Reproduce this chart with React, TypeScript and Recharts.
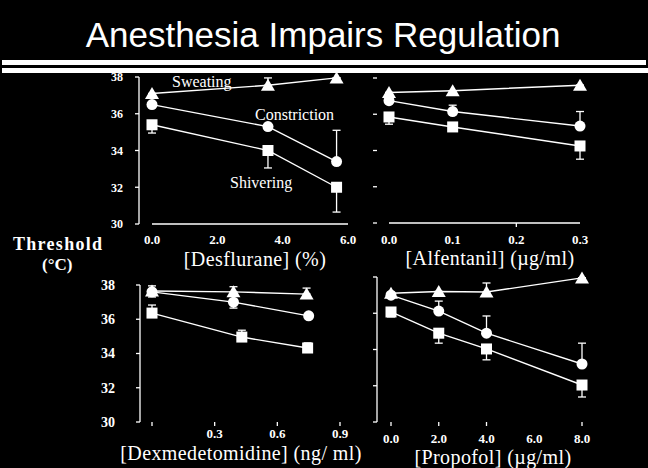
import React from 'react';
import { LineChart, Line, XAxis, YAxis, ErrorBar, ReferenceLine } from 'recharts';

// ---------- Data ----------
const yTicks = [30, 32, 34, 36, 38];

// Desflurane (%)
const desX = [0, 3.55, 5.65];
const desTicks = [0, 2, 4, 6];
const desTickLabels = ['0.0', '2.0', '4.0', '6.0'];
const desSweating = [37.1, 37.55, 37.95];
const desSweatingErr = [[0, 0], [0, 0.4], [0, 0]];
const desConstriction = [36.5, 35.3, 33.4];
const desConstrictionErr = [[0, 0], [0, 0], [0, 1.7]];
const desShivering = [35.4, 34.0, 32.0];
const desShiveringErr = [[0.45, 0], [0.95, 0], [1.35, 0]];

// Alfentanil (ug/ml)
const alfX = [0, 0.1, 0.3];
const alfTicks = [0, 0.1, 0.2, 0.3];
const alfTickLabels = ['0.0', '0.1', '0.2', '0.3'];
const alfSweating = [37.2, 37.3, 37.6];
const alfSweatingErr = [[0, 0], [0, 0], [0, 0]];
const alfConstriction = [36.75, 36.15, 35.35];
const alfConstrictionErr = [[0, 0], [0, 0.35], [0, 0.8]];
const alfShivering = [35.85, 35.3, 34.25];
const alfShiveringErr = [[0.4, 0], [0, 0], [0.73, 0]];

// Dexmedetomidine (ng/ml)
const dexSweatingX = [0, 0.39, 0.74];
const dexConstrictionX = [0, 0.39, 0.75];
const dexShiveringX = [0, 0.43, 0.745];
const dexTicks = [0, 0.3, 0.6, 0.9];
const dexTickLabels = ['', '0.3', '0.6', '0.9'];
const dexSweating = [37.65, 37.6, 37.47];
const dexSweatingErr = [[0, 0], [0, 0.3], [0, 0.35]];
const dexConstriction = [37.6, 37.0, 36.2];
const dexConstrictionErr = [[0.3, 0.35], [0.35, 0], [0, 0]];
const dexShivering = [36.36, 34.96, 34.32];
const dexShiveringErr = [[0, 0.47], [0, 0.4], [0, 0.3]];

// Propofol (ug/ml)
const proX = [0, 2, 4, 8];
const proTicks = [0, 2, 4, 6, 8];
const proTickLabels = ['0.0', '2.0', '4.0', '6.0', '8.0'];
const proSweating = [37.1, 37.2, 37.17, 37.95];
const proSweatingErr = [[0, 0], [0, 0], [0, 0.5], [0, 0]];
const proConstriction = [37.0, 36.12, 34.9, 33.2];
const proConstrictionErr = [[0, 0], [0, 0.55], [0, 0.95], [0, 1.15]];
const proShivering = [36.07, 34.9, 34.03, 32.04];
const proShiveringErr = [[0.27, 0], [0.55, 0], [0.6, 0], [0.66, 0]];

// ---------- helpers ----------
const rows = (xs: number[], ys: number[], errs: number[][]) =>
  xs.map((x, i) => ({ x, y: ys[i], err: errs[i] }));

const SERIF = "'Liberation Serif', 'Times New Roman', serif";
const SANS = "'Liberation Sans', Arial, sans-serif";

const Tri = (p: any) => {
  const { cx, cy } = p;
  if (cx == null || cy == null) return <g />;
  return <path d={`M${cx},${cy - 6.5}L${cx + 7},${cy + 5.5}L${cx - 7},${cy + 5.5}Z`} fill="#fff" />;
};
const Circ = (p: any) => {
  const { cx, cy } = p;
  if (cx == null || cy == null) return <g />;
  return <circle cx={cx} cy={cy} r={5.5} fill="#fff" />;
};
const Sq = (p: any) => {
  const { cx, cy } = p;
  if (cx == null || cy == null) return <g />;
  return <rect x={cx - 5.5} y={cy - 5.5} width={11} height={11} fill="#fff" />;
};

type Series = { name: string; data: any[]; shape: (p: any) => any };

type PanelProps = {
  left: number; right: number; top: number; bottom: number;
  padLeft: number;
  xDomain: [number, number];
  ticks: number[];
  tickLabels: string[];
  tickMarks: boolean[];
  tickDy: number;
  tickFont: number;
  yLabels: boolean;
  yAxisLine: boolean;
  yTickMargin: number;
  yFont: number;
  xAxisLine: boolean;
  series: Series[];
};

function Panel(props: PanelProps) {
  const { left, right, top, bottom, padLeft, xDomain, ticks, tickLabels, tickMarks, tickDy, tickFont,
    yLabels, yAxisLine, yTickMargin, yFont, xAxisLine, series } = props;
  const XTick = (tp: any) => {
    const { x, payload } = tp;
    const i = ticks.indexOf(payload.value);
    const y = bottom;
    return (
      <g>
        {tickMarks[i] && <line x1={x} x2={x} y1={y} y2={y + 4} stroke="#fff" strokeWidth={1.3} />}
        <text x={x} y={y + tickDy} textAnchor="middle" fill="#fff" fontSize={tickFont} fontWeight="bold" fontFamily={SERIF}>
          {tickLabels[i]}
        </text>
      </g>
    );
  };
  return (
    <div style={{ position: 'absolute', left: 0, top: 0 }}>
      <LineChart
        width={648}
        height={468}
        margin={{ top, left: left - 1, right: 648 - right, bottom: 468 - bottom - 1 }}
      >
        <XAxis
          type="number"
          dataKey="x"
          domain={xDomain}
          ticks={ticks}
          interval={0}
          padding={{ left: padLeft, right: 0 }}
          height={1}
          axisLine={false}
          tickLine={false}
          tickSize={0}
          tickMargin={0}
          tick={<XTick />}
        />
        <YAxis
          type="number"
          domain={[30, 38]}
          ticks={yTicks}
          interval={0}
          width={1}
          axisLine={yAxisLine ? { stroke: '#fff', strokeWidth: 1.3 } : false}
          tickLine={{ stroke: '#fff', strokeWidth: 1.3 }}
          tickSize={4}
          tickMargin={yTickMargin}
          tick={{ fill: '#fff', fontSize: yFont, fontWeight: 'bold', fontFamily: SERIF }}
          tickFormatter={(v: number) => (yLabels ? String(v) : '')}
        />
        {xAxisLine && (
          <ReferenceLine
            segment={[{ x: xDomain[0], y: 30 }, { x: xDomain[1], y: 30 }]}
            stroke="#fff"
            strokeWidth={1.3}
            ifOverflow="visible"
          />
        )}
        {series.map((s) => (
          <Line
            key={s.name}
            data={s.data}
            dataKey="y"
            name={s.name}
            stroke="#fff"
            strokeWidth={1.4}
            dot={(p: any) => <s.shape key={`${s.name}-${p.index}`} {...p} />}
            activeDot={false}
            isAnimationActive={false}
          >
            <ErrorBar dataKey="err" direction="y" stroke="#fff" strokeWidth={1.3} width={4} />
          </Line>
        ))}
      </LineChart>
    </div>
  );
}

export default function App() {
  return (
    <div style={{ position: 'absolute', left: 0, top: 0, width: 648, height: 468, background: '#000', overflow: 'hidden' }}>
      <svg width={648} height={468} style={{ position: 'absolute', left: 0, top: 0 }}>
        <text x={323} y={47} textAnchor="middle" fill="#fff" fontSize={35} fontFamily={SANS}>
          Anesthesia Impairs Regulation
        </text>
        <rect x={2} y={60} width={644} height={5} fill="#fff" />
        <rect x={2} y={68} width={646} height={5} fill="#fff" />
        <text x={13} y={250} fill="#fff" fontSize={18} fontWeight="bold" letterSpacing={1.3} fontFamily={SERIF}>Threshold</text>
        <text x={42} y={270} fill="#fff" fontSize={17} fontWeight="bold" fontFamily={SERIF}>(°C)</text>
        <text x={172} y={87} fill="#fff" fontSize={16} fontFamily={SERIF}>Sweating</text>
        <text x={255} y={120} fill="#fff" fontSize={16} fontFamily={SERIF}>Constriction</text>
        <text x={230} y={188} fill="#fff" fontSize={16} fontFamily={SERIF}>Shivering</text>
        <text x={255} y={266} textAnchor="middle" fill="#fff" fontSize={20} letterSpacing={0.4} fontFamily={SERIF}>[Desflurane] (%)</text>
        <text x={490} y={265} textAnchor="middle" fill="#fff" fontSize={20} letterSpacing={0.4} fontFamily={SERIF}>[Alfentanil] (µg/ml)</text>
        <text x={241} y={460} textAnchor="middle" fill="#fff" fontSize={20} letterSpacing={0.4} fontFamily={SERIF}>[Dexmedetomidine] (ng/ ml)</text>
        <text x={493} y={464} textAnchor="middle" fill="#fff" fontSize={20} letterSpacing={0.4} fontFamily={SERIF}>[Propofol] (µg/ml)</text>
      </svg>

      <Panel
        left={139} right={348} top={77} bottom={224} padLeft={13}
        xDomain={[0, 6]} ticks={desTicks} tickLabels={desTickLabels} tickMarks={[false, false, false, false]}
        tickDy={20} tickFont={13}
        yLabels={true} yAxisLine={true} yTickMargin={12} yFont={12}
        xAxisLine={true}
        series={[
          { name: 'sweat', data: rows(desX, desSweating, desSweatingErr), shape: Tri },
          { name: 'constr', data: rows(desX, desConstriction, desConstrictionErr), shape: Circ },
          { name: 'shiv', data: rows(desX, desShivering, desShiveringErr), shape: Sq },
        ]}
      />
      <Panel
        left={377} right={580} top={78} bottom={223} padLeft={12}
        xDomain={[0, 0.3]} ticks={alfTicks} tickLabels={alfTickLabels} tickMarks={[false, false, true, false]}
        tickDy={21} tickFont={13}
        yLabels={false} yAxisLine={false} yTickMargin={4} yFont={12}
        xAxisLine={true}
        series={[
          { name: 'constr', data: rows(alfX, alfConstriction, alfConstrictionErr), shape: Circ },
          { name: 'sweat', data: rows(alfX, alfSweating, alfSweatingErr), shape: Tri },
          { name: 'shiv', data: rows(alfX, alfShivering, alfShiveringErr), shape: Sq },
        ]}
      />
      <Panel
        left={140} right={340} top={285} bottom={422} padLeft={12}
        xDomain={[0, 0.9]} ticks={dexTicks} tickLabels={dexTickLabels} tickMarks={[true, true, true, true]}
        tickDy={16} tickFont={13}
        yLabels={true} yAxisLine={true} yTickMargin={21} yFont={14}
        xAxisLine={false}
        series={[
          { name: 'sweat', data: rows(dexSweatingX, dexSweating, dexSweatingErr), shape: Tri },
          { name: 'constr', data: rows(dexConstrictionX, dexConstriction, dexConstrictionErr), shape: Circ },
          { name: 'shiv', data: rows(dexShiveringX, dexShivering, dexShiveringErr), shape: Sq },
        ]}
      />
      <Panel
        left={377} right={582} top={277} bottom={422} padLeft={14}
        xDomain={[0, 8]} ticks={proTicks} tickLabels={proTickLabels} tickMarks={[true, true, true, false, true]}
        tickDy={21} tickFont={13}
        yLabels={false} yAxisLine={true} yTickMargin={4} yFont={12}
        xAxisLine={false}
        series={[
          { name: 'constr', data: rows(proX, proConstriction, proConstrictionErr), shape: Circ },
          { name: 'sweat', data: rows(proX, proSweating, proSweatingErr), shape: Tri },
          { name: 'shiv', data: rows(proX, proShivering, proShiveringErr), shape: Sq },
        ]}
      />
    </div>
  );
}
